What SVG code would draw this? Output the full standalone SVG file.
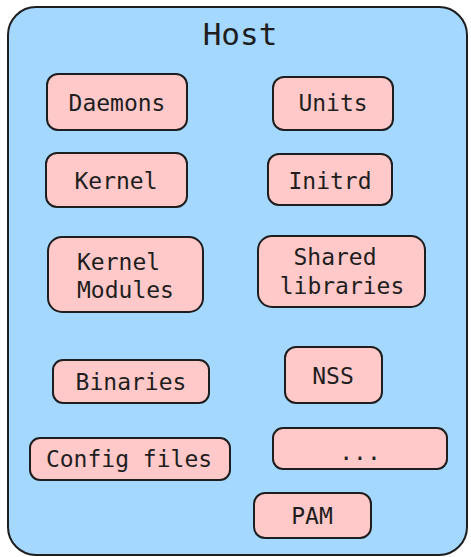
<svg xmlns="http://www.w3.org/2000/svg" width="471" height="557" viewBox="0 0 471 557">
<style>
.n rect{fill:#ffc9c9;stroke:#1e1e1e;stroke-width:2}
text{font-family:"DejaVu Sans Mono","Liberation Mono",monospace;fill:#1e1e1e;font-size:23px}
.c{text-anchor:middle}
</style>
<rect width="471" height="557" fill="#ffffff"/>
<g id="host">
<rect x="8" y="7" width="459" height="548" rx="28" fill="#a5d8ff" stroke="#1e1e1e" stroke-width="2"/>
<text x="240" y="45" class="c" style="font-size:31px">Host</text>
</g>
<g id="connectors"></g>
<g id="daemons" class="n"><rect x="47" y="74" width="140" height="56" rx="11"/><text x="117" y="111" class="c">Daemons</text></g>
<g id="units" class="n"><rect x="273" y="77" width="120" height="53" rx="11"/><text x="333" y="111" class="c">Units</text></g>
<g id="kernel" class="n"><rect x="46" y="153" width="141" height="54" rx="11"/><text x="116" y="189" class="c">Kernel</text></g>
<g id="initrd" class="n"><rect x="268" y="154" width="124" height="51" rx="11"/><text x="330" y="189" class="c">Initrd</text></g>
<g id="kernel-modules" class="n"><rect x="48" y="237" width="155" height="75" rx="14"/><text x="77" y="270">Kernel</text><text x="77" y="298">Modules</text></g>
<g id="shared-libraries" class="n"><rect x="258" y="236" width="167" height="71" rx="14"/><text x="335" y="265" class="c">Shared</text><text x="342" y="294" class="c">libraries</text></g>
<g id="binaries" class="n"><rect x="53" y="360" width="156" height="43" rx="10"/><text x="131" y="390" class="c">Binaries</text></g>
<g id="nss" class="n"><rect x="285" y="347" width="97" height="56" rx="11"/><text x="333" y="384" class="c">NSS</text></g>
<g id="config-files" class="n"><rect x="30" y="438" width="200" height="42" rx="10"/><text x="129" y="467" class="c">Config files</text></g>
<g id="more" class="n"><rect x="273" y="428" width="174" height="41" rx="10"/><text x="360" y="460" class="c">...</text></g>
<g id="pam" class="n"><rect x="254" y="493" width="117" height="45" rx="11"/><text x="312" y="524" class="c">PAM</text></g>
</svg>
